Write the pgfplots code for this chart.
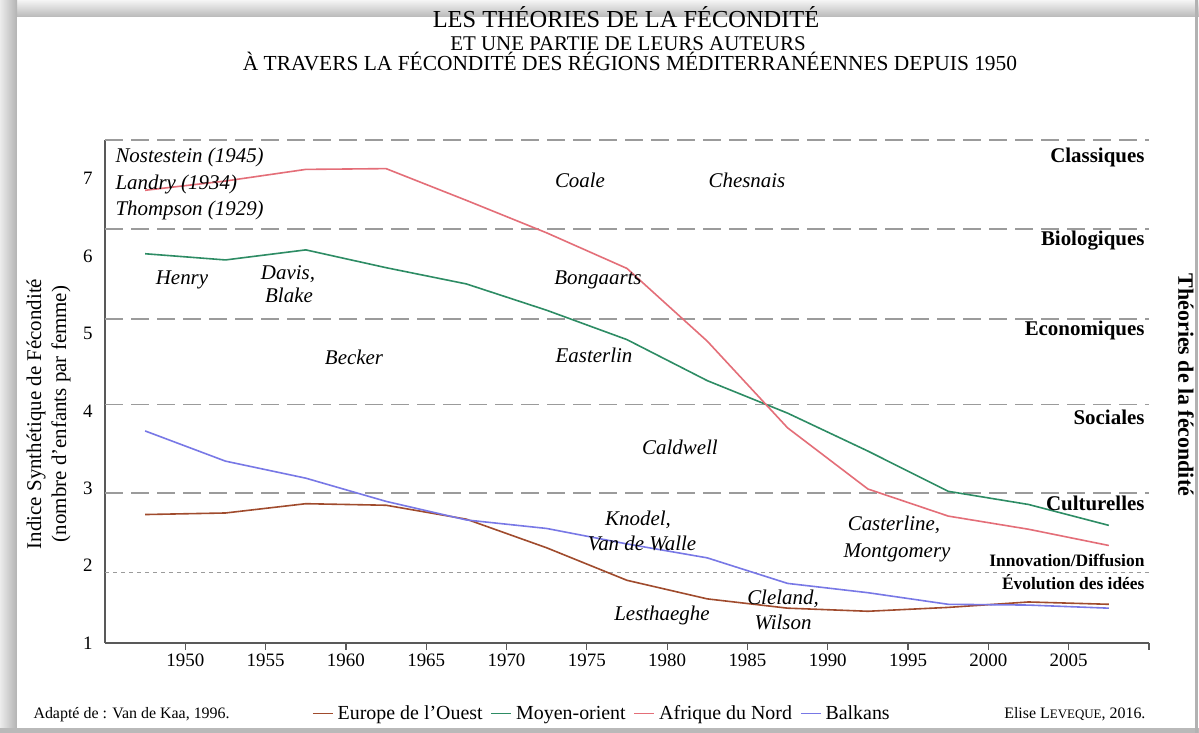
\documentclass[border=0pt]{standalone}
\usepackage{pgfplots}
\pgfplotsset{compat=1.18}
\usepackage{fontspec}
\setmainfont{Liberation Serif}
\definecolor{cEur}{RGB}{160,75,45}
\definecolor{cMoy}{RGB}{45,140,100}
\definecolor{cAfr}{RGB}{228,110,120}
\definecolor{cBal}{RGB}{120,120,230}
\definecolor{cDash}{RGB}{155,155,155}
\newcommand{\fs}[1]{\fontsize{#1}{#1}\selectfont}

\begin{document}
\begin{tikzpicture}[x=1bp,y=1bp]
\useasboundingbox (0,0) rectangle (1199,733);
\fill[white] (0,0) rectangle (1199,733);
\shade[top color=gray!8, bottom color=gray!55] (0,716) rectangle (1199,733);
\shade[left color=gray!15, right color=gray!60] (0,0) rectangle (17,733);
\fill[gray!55] (0,0) rectangle (1199,5);
\fill[gray!60] (1195,0) rectangle (1198,733);
\fill[white] (17,5) rectangle (1195,716);

\begin{axis}[
  at={(105bp,90bp)}, anchor=south west,
  scale only axis, width=1044bp, height=503bp,
  xmin=1945, xmax=2010, ymin=1, ymax=7.5,
  axis lines*=left,
  axis line style={draw=black!65, line width=1.3bp},
  xtick={1950,1955,...,2005},
  extra x ticks={2010}, extra x tick labels={},
  ytick={1,...,7},
  ytick style={draw=none},
  tick align=outside, major tick length=7bp,
  tick style={black!65, line width=1.2bp},
  ticklabel style={font=\fs{19}},
  /pgf/number format/assume math mode=true,
  /pgf/number format/1000 sep={},
  yticklabel style={xshift=-2bp},
  clip=false,
  legend style={at={(0.477,-0.14)}, anchor=center, draw=none, fill=none,
    legend columns=4, font=\fs{20}, inner sep=0pt,
    nodes={inner xsep=4bp, inner ysep=0pt},
    /tikz/every even column/.append style={column sep=4bp}},
  legend cell align=left,
  legend image code/.code={\draw[#1, line width=1.5bp] (0bp,0bp) -- (20bp,0bp);},
]
% theory separation lines
\addplot[cDash, line width=1.6bp, dash pattern=on 18bp off 8bp, forget plot] coordinates {(1945,7.5) (2010,7.5)};
\addplot[cDash, line width=1.6bp, dash pattern=on 18bp off 8bp, forget plot] coordinates {(1945,6.35) (2010,6.35)};
\addplot[cDash, line width=1.6bp, dash pattern=on 18bp off 8bp, forget plot] coordinates {(1945,5.19) (2010,5.19)};
\addplot[cDash, line width=1.6bp, dash pattern=on 18bp off 8bp, forget plot] coordinates {(1945,4.08) (2010,4.08)};
\addplot[cDash, line width=1.6bp, dash pattern=on 18bp off 8bp, forget plot] coordinates {(1945,2.94) (2010,2.94)};
\addplot[cDash, line width=1bp, dash pattern=on 4bp off 4bp, forget plot] coordinates {(1945,1.91) (2010,1.91)};

\addplot[cEur, line width=1.6bp] coordinates {
(1947.5,2.66) (1952.5,2.68) (1957.5,2.80) (1962.5,2.78) (1967.5,2.60) (1972.5,2.23)
(1977.5,1.81) (1982.5,1.57) (1987.5,1.45) (1992.5,1.41) (1997.5,1.46) (2002.5,1.53) (2007.5,1.50)};
\addlegendentry{Europe de l’Ouest}
\addplot[cMoy, line width=1.6bp] coordinates {
(1947.5,6.03) (1952.5,5.95) (1957.5,6.08) (1962.5,5.85) (1967.5,5.64) (1972.5,5.30)
(1977.5,4.92) (1982.5,4.39) (1987.5,3.97) (1992.5,3.48) (1997.5,2.96) (2002.5,2.79) (2007.5,2.52)};
\addlegendentry{Moyen-orient}
\addplot[cAfr, line width=1.6bp] coordinates {
(1947.5,6.85) (1952.5,6.97) (1957.5,7.12) (1962.5,7.13) (1967.5,6.72) (1972.5,6.30)
(1977.5,5.84) (1982.5,4.90) (1987.5,3.78) (1992.5,2.99) (1997.5,2.64) (2002.5,2.47) (2007.5,2.26)};
\addlegendentry{Afrique du Nord}
\addplot[cBal, line width=1.6bp] coordinates {
(1947.5,3.74) (1952.5,3.35) (1957.5,3.13) (1962.5,2.83) (1967.5,2.59) (1972.5,2.48)
(1977.5,2.28) (1982.5,2.10) (1987.5,1.77) (1992.5,1.65) (1997.5,1.50) (2002.5,1.49) (2007.5,1.45)};
\addlegendentry{Balkans}
\end{axis}

% titles
\node[anchor=base, font=\fs{24.5}] at (626,705) {LES THÉORIES DE LA FÉCONDITÉ};
\node[anchor=base, font=\fs{21}] at (628,682) {ET UNE PARTIE DE LEURS AUTEURS};
\node[anchor=base, font=\fs{21.5}] at (630,662) {À TRAVERS LA FÉCONDITÉ DES RÉGIONS MÉDITERRANÉENNES DEPUIS 1950};

% axis titles
\node[rotate=90, font=\fs{21}] at (36,319) {Indice Synthétique de Fécondité};
\node[rotate=90, font=\fs{21}] at (61,319) {(nombre d’enfants par femme)};
\node[rotate=-90, font=\bfseries\fs{22}] at (1186,348) {Théories de la fécondité};

% theory labels
\begin{scope}[every node/.style={anchor=mid east, font=\bfseries\fs{21}}]
\node at (1148,573) {Classiques};
\node at (1148,490) {Biologiques};
\node at (1148,400) {Economiques};
\node at (1148,311) {Sociales};
\node at (1148,225) {Culturelles};
\end{scope}
\node[anchor=mid east, font=\bfseries\fs{17.5}] at (1148,169) {Innovation/Diffusion};
\node[anchor=mid east, font=\bfseries\fs{17.5}] at (1148,146) {Évolution des idées};

% authors
\begin{scope}[every node/.style={anchor=mid, font=\itshape\fs{21}}]
\node[anchor=mid west] at (112,573) {Nostestein (1945)};
\node[anchor=mid west] at (112,546) {Landry (1934)};
\node[anchor=mid west] at (112,520) {Thompson (1929)};
\node at (182,451) {Henry};
\node at (288,456) {Davis,};
\node at (289,433) {Blake};
\node at (354,371) {Becker};
\node at (580,548) {Coale};
\node at (747,548) {Chesnais};
\node at (598,451) {Bongaarts};
\node at (594,373) {Easterlin};
\node at (680,281) {Caldwell};
\node at (638,210) {Knodel,};
\node at (642,185) {Van de Walle};
\node at (662,115) {Lesthaeghe};
\node at (783,131) {Cleland,};
\node at (783,106) {Wilson};
\node at (894,205) {Casterline,};
\node at (897,178) {Montgomery};
\end{scope}

% footer
\node[anchor=mid west, font=\fs{16}] at (30,17) {Adapté de : Van de Kaa, 1996.};
\node[anchor=mid east, font=\fs{16}] at (1149,17) {Elise L{\fs{13}EVEQUE}, 2016.};
\end{tikzpicture}
\end{document}
